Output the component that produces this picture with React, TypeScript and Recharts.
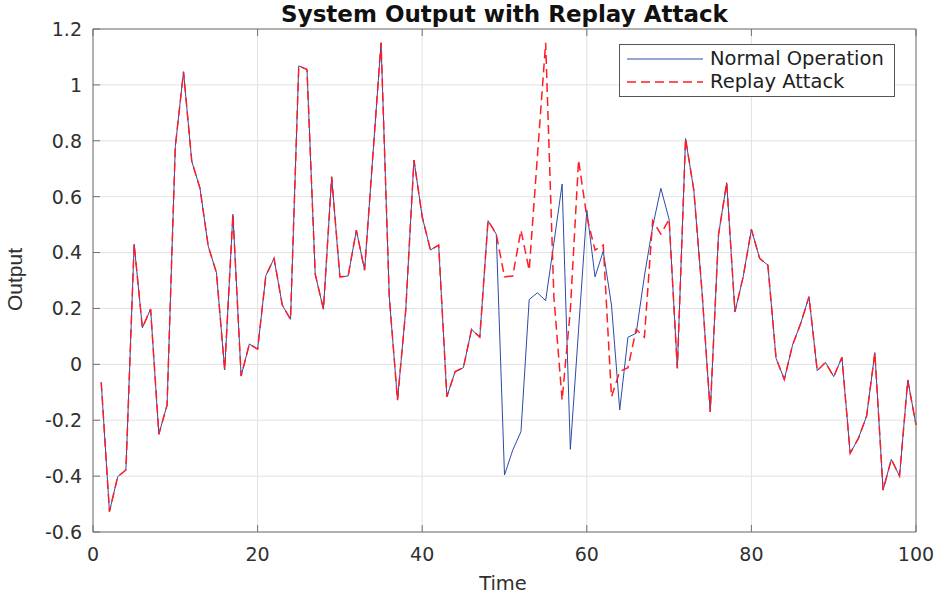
import { LineChart, Line, XAxis, YAxis, CartesianGrid, Legend } from 'recharts'

// whole page is the chart, no default body margin
document.body.style.margin = '0'

// ── data ────────────────────────────────────────────────────────
const TIME = Array.from({ length: 100 }, (_, i) => i + 1)

const NORMAL = [
  -0.064, -0.527, -0.402, -0.378, 0.43, 0.131, 0.198, -0.25, -0.146, 0.779,
  1.047, 0.727, 0.63, 0.423, 0.328, -0.02, 0.537, -0.042, 0.073, 0.054,
  0.317, 0.379, 0.212, 0.161, 1.068, 1.055, 0.323, 0.197, 0.671, 0.313,
  0.316, 0.48, 0.337, 0.745, 1.151, 0.242, -0.128, 0.194, 0.731, 0.528,
  0.409, 0.427, -0.116, -0.026, -0.012, 0.125, 0.097, 0.514, 0.466, -0.396,
  -0.307, -0.241, 0.232, 0.256, 0.228, 0.434, 0.645, -0.304, 0.123, 0.552,
  0.313, 0.405, 0.212, -0.163, 0.097, 0.111, 0.316, 0.492, 0.63, 0.519,
  -0.014, 0.808, 0.624, 0.26, -0.17, 0.463, 0.65, 0.188, 0.313, 0.483,
  0.379, 0.355, 0.021, -0.054, 0.069, 0.147, 0.242, -0.023, 0.007, -0.044,
  0.025, -0.318, -0.265, -0.185, 0.042, -0.45, -0.34, -0.4, -0.056, -0.217,
]

const ATTACK = [
  -0.064, -0.527, -0.402, -0.378, 0.43, 0.131, 0.198, -0.25, -0.146, 0.779,
  1.047, 0.727, 0.63, 0.423, 0.328, -0.02, 0.537, -0.042, 0.073, 0.054,
  0.317, 0.379, 0.212, 0.161, 1.068, 1.055, 0.323, 0.197, 0.671, 0.313,
  0.316, 0.48, 0.337, 0.745, 1.151, 0.242, -0.128, 0.194, 0.731, 0.528,
  0.409, 0.427, -0.116, -0.026, -0.012, 0.125, 0.097, 0.514, 0.466, 0.313,
  0.316, 0.48, 0.337, 0.745, 1.151, 0.242, -0.128, 0.194, 0.731, 0.528,
  0.409, 0.427, -0.116, -0.026, -0.012, 0.125, 0.097, 0.514, 0.466, 0.519,
  -0.014, 0.808, 0.624, 0.26, -0.17, 0.463, 0.65, 0.188, 0.313, 0.483,
  0.379, 0.355, 0.021, -0.054, 0.069, 0.147, 0.242, -0.023, 0.007, -0.044,
  0.025, -0.318, -0.265, -0.185, 0.042, -0.45, -0.34, -0.4, -0.056, -0.217,
]

const X_TICKS = [0, 20, 40, 60, 80, 100]
const Y_TICKS = [-0.6, -0.4, -0.2, 0, 0.2, 0.4, 0.6, 0.8, 1, 1.2]
// ─────────────────────────────────────────────────────────────

const data = TIME.map((t, i) => ({ t, normal: NORMAL[i], attack: ATTACK[i] }))

const W = 941
const H = 596
const AXIS = '#707070'
const LABEL = '#303030'
const FONT = '"DejaVu Sans", sans-serif'
const TICK_LEN = 7
const Y_GAP = 11

const fmt = (v: number) => String(Number(v.toFixed(1)))

// MATLAB-ish inward ticks + labels
function LeftTick({ x, y, payload }: any) {
  const ax = x + Y_GAP
  return (
    <g>
      <line x1={ax} x2={ax + TICK_LEN} y1={y} y2={y} stroke={AXIS} />
      <text x={x} y={y} dy="0.36em" textAnchor="end" fontFamily={FONT} fontSize={19} fill={LABEL}>
        {fmt(payload.value)}
      </text>
    </g>
  )
}

function RightTick({ x, y }: any) {
  return <line x1={x - TICK_LEN} x2={x} y1={y} y2={y} stroke={AXIS} />
}

function BottomTick({ x, y, payload }: any) {
  return (
    <g>
      <line x1={x} x2={x} y1={y - TICK_LEN} y2={y} stroke={AXIS} />
      <text x={x} y={y + 29} textAnchor="middle" fontFamily={FONT} fontSize={19} fill={LABEL}>
        {payload.value}
      </text>
    </g>
  )
}

function TopTick({ x, y }: any) {
  return <line x1={x} x2={x} y1={y} y2={y + TICK_LEN} stroke={AXIS} />
}

function LegendBox({ payload }: any) {
  return (
    <div
      style={{
        background: '#fff',
        border: '1px solid #555',
        padding: '2px 10px 3px 7px',
        fontFamily: FONT,
        fontSize: 19.5,
        color: '#1e1e1e',
      }}
    >
      {(payload ?? []).map((p: any) => (
        <div key={p.value} style={{ display: 'flex', alignItems: 'center', height: 23 }}>
          <svg width={76} height={10} style={{ marginRight: 7 }}>
            <line
              x1={0}
              x2={76}
              y1={5}
              y2={5}
              stroke={p.color}
              strokeWidth={p.payload?.strokeWidth ?? 1}
              strokeDasharray={p.payload?.strokeDasharray}
            />
          </svg>
          <span>{p.value}</span>
        </div>
      ))}
    </div>
  )
}

export default function App() {
  return (
    <div style={{ position: 'relative', width: W, height: H, background: '#fff' }}>
      <LineChart width={W} height={H} data={data} margin={{ top: 0, right: 0, bottom: 0, left: 0 }}>
        <CartesianGrid xAxisId="bottom" yAxisId="left" stroke="#e2e2e2" />
        <XAxis
          xAxisId="bottom"
          dataKey="t"
          type="number"
          domain={[0, 100]}
          ticks={X_TICKS}
          height={64}
          tickSize={0}
          tickMargin={0}
          tickLine={false}
          axisLine={{ stroke: AXIS }}
          tick={<BottomTick />}
        />
        <XAxis
          xAxisId="top"
          orientation="top"
          dataKey="t"
          type="number"
          domain={[0, 100]}
          ticks={X_TICKS}
          height={29}
          tickSize={0}
          tickMargin={0}
          tickLine={false}
          axisLine={{ stroke: AXIS }}
          tick={<TopTick />}
        />
        <YAxis
          yAxisId="left"
          type="number"
          domain={[-0.6, 1.2]}
          ticks={Y_TICKS}
          width={93}
          tickSize={0}
          tickMargin={Y_GAP}
          tickLine={false}
          axisLine={{ stroke: AXIS }}
          tick={<LeftTick />}
        />
        <YAxis
          yAxisId="right"
          orientation="right"
          type="number"
          domain={[-0.6, 1.2]}
          ticks={Y_TICKS}
          width={25}
          tickSize={0}
          tickMargin={0}
          tickLine={false}
          axisLine={{ stroke: AXIS }}
          tick={<RightTick />}
        />
        <Line
          xAxisId="bottom"
          yAxisId="left"
          name="Normal Operation"
          dataKey="normal"
          stroke="#2b4ba8"
          strokeWidth={1}
          dot={false}
          activeDot={false}
          isAnimationActive={false}
        />
        <Line
          xAxisId="bottom"
          yAxisId="left"
          name="Replay Attack"
          dataKey="attack"
          stroke="#ff1c24"
          strokeWidth={1.5}
          strokeDasharray="9 5"
          dot={false}
          activeDot={false}
          isAnimationActive={false}
        />
        <Legend
          layout="vertical"
          align="center"
          verticalAlign="middle"
          content={<LegendBox />}
          wrapperStyle={{ left: 619, top: 44, width: 'auto', height: 'auto' }}
        />
      </LineChart>
      <svg width={W} height={H} style={{ position: 'absolute', left: 0, top: 0, pointerEvents: 'none' }}>
        <text x={504.5} y={22} textAnchor="middle" fontFamily={FONT} fontWeight="bold" fontSize={23} fill="#111">
          System Output with Replay Attack
        </text>
        <text x={503} y={590} textAnchor="middle" fontFamily={FONT} fontSize={19.5} fill={LABEL}>
          Time
        </text>
        <text
          x={22}
          y={279.5}
          transform="rotate(-90 22 279.5)"
          textAnchor="middle"
          fontFamily='"Liberation Sans", Arial, sans-serif'
          fontSize={21}
          fill={LABEL}
        >
          Output
        </text>
      </svg>
    </div>
  )
}
